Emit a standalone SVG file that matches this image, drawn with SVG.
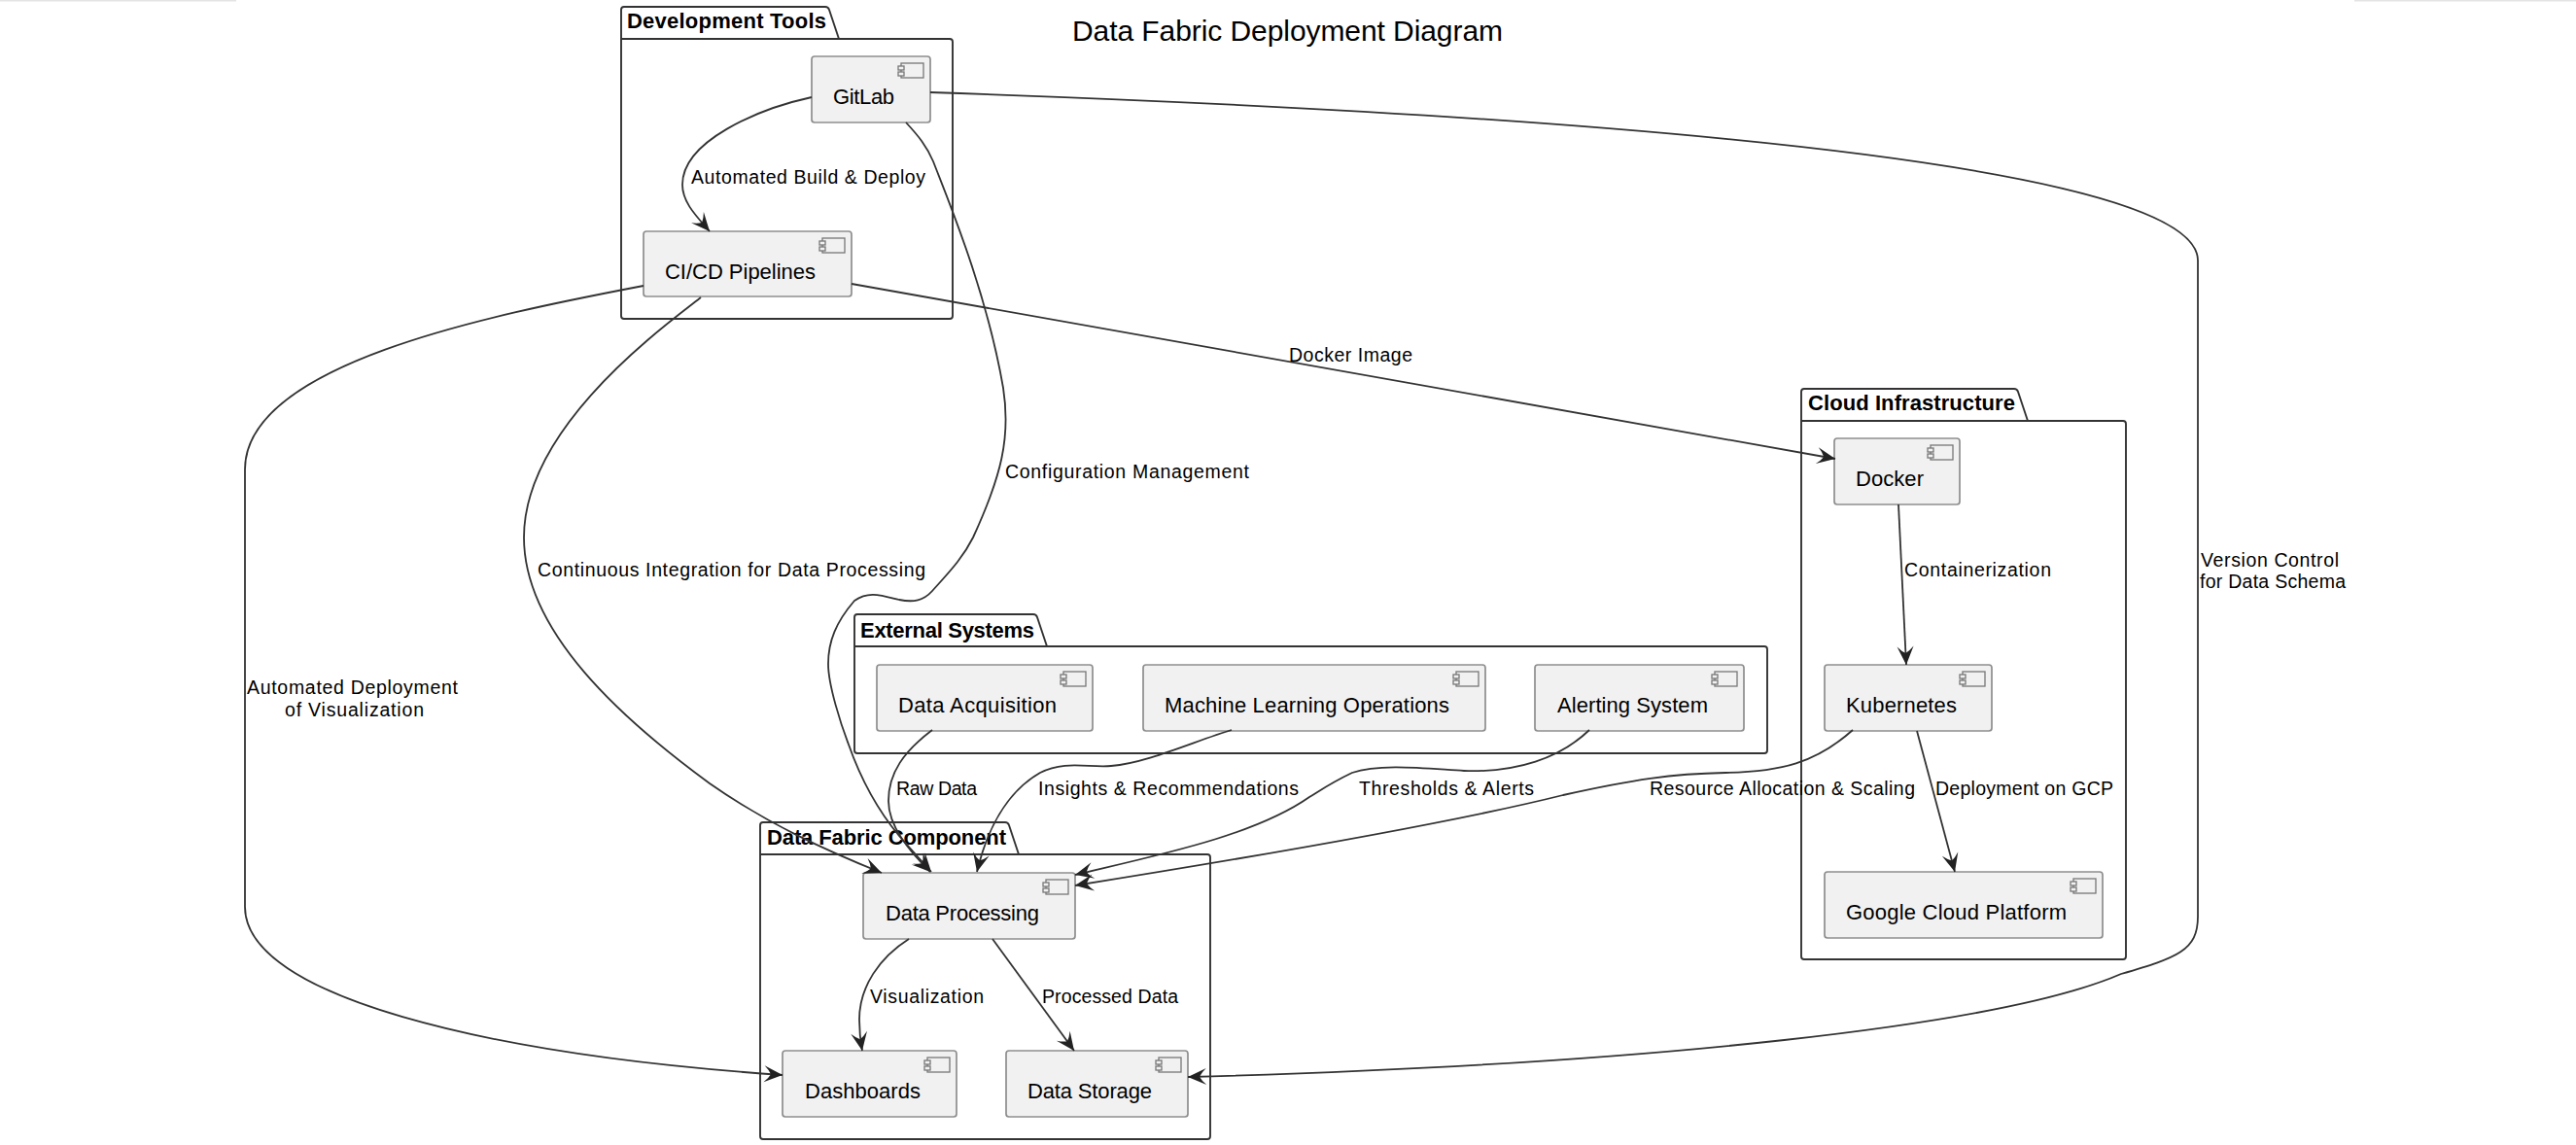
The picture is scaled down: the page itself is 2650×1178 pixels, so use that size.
<svg xmlns="http://www.w3.org/2000/svg" width="2650" height="1178" viewBox="0 0 2650 1178">
<style>
text{font-family:"Liberation Sans",Arial,sans-serif;fill:#000}
.title{font-size:30px}
.pkg{fill:#fff;stroke:#333;stroke-width:1.9;stroke-linejoin:round}
.tl{stroke:#333;stroke-width:1.9}
.pt{font-size:22px;font-weight:700}
.box{fill:#f1f1f1;stroke:#8e8e8e;stroke-width:1.7}
.nt{font-size:22px}
.el{font-size:19.5px}
.ic{fill:#f1f1f1;stroke:#777;stroke-width:1.3}
.c{fill:none;stroke:#333;stroke-width:1.8;marker-end:url(#arrow)}
.edge{stroke:#e4e4e4;stroke-width:3}
</style>
<defs>
<marker id="arrow" markerUnits="userSpaceOnUse" markerWidth="24" markerHeight="24" refX="21" refY="12" orient="auto">
<path d="M21,12 L2,3.5 Q7,8 9,12 Q7,16 2,20.5 Z" fill="#222"/>
</marker>
<g id="icon">
<rect class="ic" x="3" y="0" width="23" height="15"/>
<rect class="ic" x="0" y="3" width="6" height="4"/>
<rect class="ic" x="0" y="9" width="6" height="4"/>
</g>
</defs>
<rect width="2650" height="1178" fill="#fff"/>
<g id="page-edges">
<line class="edge" x1="0" y1="0" x2="243" y2="0"/>
<line class="edge" x1="2422" y1="0" x2="2650" y2="0"/>
</g>
<text id="title" class="title" x="1103" y="42" textLength="443">Data Fabric Deployment Diagram</text>

<g id="pkg-development-tools">
<path class="pkg" d="M639,40 L639,10 Q639,7 642,7 L849,7 Q852,7 853,10 L863,40 L977,40 Q980,40 980,43 L980,325 Q980,328 977,328 L642,328 Q639,328 639,325 Z"/>
<line class="tl" x1="639" y1="40" x2="863" y2="40"/>
<text class="pt" x="645" y="29" textLength="205">Development Tools</text>
</g>
<g id="pkg-external-systems">
<path class="pkg" d="M879,665 L879,635 Q879,632 882,632 L1063,632 Q1066,632 1067,635 L1077,665 L1815,665 Q1818,665 1818,668 L1818,772 Q1818,775 1815,775 L882,775 Q879,775 879,772 Z"/>
<line class="tl" x1="879" y1="665" x2="1077" y2="665"/>
<text class="pt" x="885" y="656" textLength="179">External Systems</text>
</g>
<g id="pkg-data-fabric-component">
<path class="pkg" d="M782,879 L782,849 Q782,846 785,846 L1034,846 Q1037,846 1038,849 L1048,879 L1242,879 Q1245,879 1245,882 L1245,1169 Q1245,1172 1242,1172 L785,1172 Q782,1172 782,1169 Z"/>
<line class="tl" x1="782" y1="879" x2="1048" y2="879"/>
<text class="pt" x="789" y="869" textLength="246">Data Fabric Component</text>
</g>
<g id="pkg-cloud-infrastructure">
<path class="pkg" d="M1853,433 L1853,403 Q1853,400 1856,400 L2072,400 Q2075,400 2076,403 L2086,433 L2184,433 Q2187,433 2187,436 L2187,984 Q2187,987 2184,987 L1856,987 Q1853,987 1853,984 Z"/>
<line class="tl" x1="1853" y1="433" x2="2086" y2="433"/>
<text class="pt" x="1860" y="422" textLength="213">Cloud Infrastructure</text>
</g>

<g id="node-gitlab"><rect class="box" x="835" y="58" width="122" height="68" rx="3"/><use href="#icon" x="924" y="65"/><text class="nt" x="857" y="107" textLength="63">GitLab</text></g>
<g id="node-cicd"><rect class="box" x="662" y="238" width="214" height="67" rx="3"/><use href="#icon" x="843" y="245"/><text class="nt" x="684" y="287" textLength="155">CI/CD Pipelines</text></g>
<g id="node-docker"><rect class="box" x="1887" y="451" width="129" height="68" rx="3"/><use href="#icon" x="1983" y="458"/><text class="nt" x="1909" y="500" textLength="70">Docker</text></g>
<g id="node-kubernetes"><rect class="box" x="1877" y="684" width="172" height="68" rx="3"/><use href="#icon" x="2016" y="691"/><text class="nt" x="1899" y="733" textLength="114">Kubernetes</text></g>
<g id="node-gcp"><rect class="box" x="1877" y="897" width="286" height="68" rx="3"/><use href="#icon" x="2130" y="904"/><text class="nt" x="1899" y="946" textLength="227">Google Cloud Platform</text></g>
<g id="node-data-acquisition"><rect class="box" x="902" y="684" width="222" height="68" rx="3"/><use href="#icon" x="1091" y="691"/><text class="nt" x="924" y="733" textLength="163">Data Acquisition</text></g>
<g id="node-mlops"><rect class="box" x="1176" y="684" width="352" height="68" rx="3"/><use href="#icon" x="1495" y="691"/><text class="nt" x="1198" y="733" textLength="293">Machine Learning Operations</text></g>
<g id="node-alerting"><rect class="box" x="1579" y="684" width="215" height="68" rx="3"/><use href="#icon" x="1761" y="691"/><text class="nt" x="1602" y="733" textLength="155">Alerting System</text></g>
<g id="node-data-processing"><rect class="box" x="888" y="898" width="218" height="68" rx="3"/><use href="#icon" x="1073" y="905"/><text class="nt" x="911" y="947" textLength="158">Data Processing</text></g>
<g id="node-dashboards"><rect class="box" x="805" y="1081" width="179" height="68" rx="3"/><use href="#icon" x="951" y="1088"/><text class="nt" x="828" y="1130" textLength="119">Dashboards</text></g>
<g id="node-data-storage"><rect class="box" x="1035" y="1081" width="187" height="68" rx="3"/><use href="#icon" x="1189" y="1088"/><text class="nt" x="1057" y="1130" textLength="128">Data Storage</text></g>

<g id="connectors">
<path class="c" d="M835,100 C780,112 702,145 702,190 C702,208 716,222 730,238"/>
<path class="c" d="M932,126 C945,140 953,150 960,166 C975,205 1015,300 1032,399 C1040,450 1030,490 1001,553 C990,575 975,590 959,608 C950,618 940,620 925,617 C905,612 893,608 879,618 C860,640 852,660 852,683 C852,705 865,745 873,766 C885,800 900,830 925,860 L958,897"/>
<path class="c" d="M721,306 C680,338 539,440 539,553 C539,650 640,740 730,806 C790,848 850,875 907,898"/>
<path class="c" d="M662,294 C500,325 252,375 252,483 L252,933 C252,1025 500,1085 805,1106"/>
<path class="c" d="M876,292 L1888,472"/>
<path class="c" d="M957,95 C1400,110 2261,150 2261,268 L2261,943 C2261,978 2240,985 2182,1002 C2060,1055 1700,1095 1222,1108"/>
<path class="c" d="M1953,519 L1961,684"/>
<path class="c" d="M1972,752 L2011,897"/>
<path class="c" d="M1906,751 C1868,785 1832,794 1775,795 C1720,796 1680,802 1608,818 C1500,845 1300,880 1106,911"/>
<path class="c" d="M1635,751 C1605,780 1560,795 1506,793 C1470,791 1420,785 1391,795 C1370,805 1360,812 1347,820 C1290,860 1190,880 1106,900"/>
<path class="c" d="M1267,751 C1230,762 1180,785 1143,788 C1120,790 1095,782 1070,795 C1035,815 1015,855 1005,897"/>
<path class="c" d="M959,751 C930,773 914,795 914,824 C914,850 935,875 957,897"/>
<path class="c" d="M935,966 C905,985 884,1015 884,1049 C884,1060 885,1070 887,1081"/>
<path class="c" d="M1021,966 L1105,1081"/>
<text class="el" x="711" y="189" textLength="241">Automated Build &amp; Deploy</text>
<text class="el" x="1326" y="372" textLength="127">Docker Image</text>
<text class="el" x="1034" y="492" textLength="251">Configuration Management</text>
<text class="el" x="553" y="593" textLength="399">Continuous Integration for Data Processing</text>
<text class="el" x="254" y="714" textLength="217">Automated Deployment</text>
<text class="el" x="293" y="737" textLength="143">of Visualization</text>
<text class="el" x="2264" y="583" textLength="142">Version Control</text>
<text class="el" x="2263" y="605" textLength="150">for Data Schema</text>
<text class="el" x="1959" y="593" textLength="151">Containerization</text>
<text class="el" x="922" y="818" textLength="83">Raw Data</text>
<text class="el" x="1068" y="818" textLength="268">Insights &amp; Recommendations</text>
<text class="el" x="1398" y="818" textLength="180">Thresholds &amp; Alerts</text>
<text class="el" x="1697" y="818" textLength="273">Resource Allocation &amp; Scaling</text>
<text class="el" x="1991" y="818" textLength="183">Deployment on GCP</text>
<text class="el" x="895" y="1032" textLength="117">Visualization</text>
<text class="el" x="1072" y="1032" textLength="140">Processed Data</text>
</g>
</svg>
